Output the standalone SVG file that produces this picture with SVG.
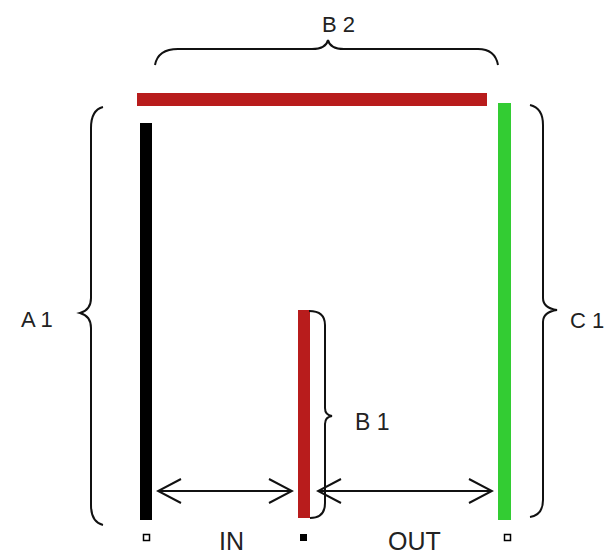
<svg xmlns="http://www.w3.org/2000/svg" width="604" height="554" viewBox="0 0 604 554">
<style>
.brace{fill:none;stroke:#111;stroke-width:2}
.lbl{font-family:"Liberation Sans",Arial,sans-serif;fill:#222}
.arr{stroke:#111;stroke-width:2;fill:none}
</style>
<defs>
<marker id="ah" viewBox="0 -13 26 26" refX="24" refY="0" markerWidth="26" markerHeight="26" markerUnits="userSpaceOnUse" orient="auto-start-reverse">
<path d="M1,-12 L24,0 L1,12" fill="none" stroke="#111" stroke-width="2"/>
</marker>
</defs>
<rect width="604" height="554" fill="#fff"/>
<g id="bar-b2"><rect x="137" y="93" width="350" height="13" fill="#b81c1c"/></g>
<g id="bar-a1"><rect x="140" y="123" width="12" height="397" fill="#000"/></g>
<g id="bar-c1"><rect x="498" y="103" width="13" height="417" fill="#33cc33"/></g>
<g id="bar-b1"><rect x="298" y="310" width="12" height="208" fill="#b81c1c"/></g>
<g id="braces">
<path class="brace" d="M155,65 Q158,49 178,49 L312,49 Q326,49 328,40 Q330,49 344,49 L478,49 Q495,49 498,65"/>
<path class="brace" d="M103,107 Q91,110 91,128 L91,298 Q91,310 80,313 Q91,316 91,328 L91,505 Q91,522 103,525"/>
<path class="brace" d="M530,105 Q543,108 543,125 L543,298 Q543,308 557,310 Q543,312 543,322 L543,500 Q543,515 530,517"/>
<path class="brace" d="M309,311 Q325,311 325,325 L325,408 Q325,415 332,416 Q325,417 325,424 L325,503 Q325,518 310,518"/>
</g>
<g id="connectors">
<line class="arr" x1="158" y1="491" x2="292" y2="491" marker-start="url(#ah)" marker-end="url(#ah)"/>
<line class="arr" x1="318" y1="491" x2="492" y2="491" marker-start="url(#ah)" marker-end="url(#ah)"/>
</g>
<g id="terminals">
<rect x="143.5" y="534.5" width="6" height="6" fill="#fff" stroke="#000" stroke-width="1.5"/>
<rect x="300" y="534" width="7" height="7" fill="#000"/>
<rect x="504.5" y="534.5" width="6" height="6" fill="#fff" stroke="#000" stroke-width="1.5"/>
</g>
<g id="labels">
<text class="lbl" x="322" y="32" font-size="22">B 2</text>
<text class="lbl" x="21" y="327" font-size="22">A 1</text>
<text class="lbl" x="570" y="328" font-size="22">C 1</text>
<text class="lbl" x="355" y="430" font-size="23">B 1</text>
<text class="lbl" x="219" y="550" font-size="25">IN</text>
<text class="lbl" x="388" y="550" font-size="25">OUT</text>
</g>
</svg>
